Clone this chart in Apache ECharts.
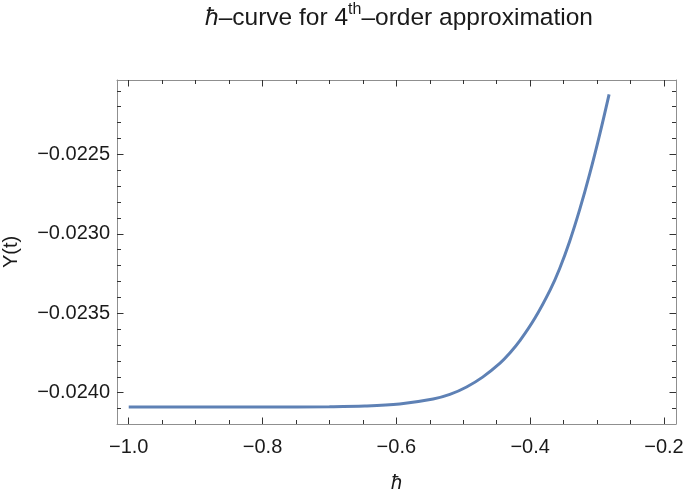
<!DOCTYPE html>
<html><head><meta charset="utf-8">
<script src="https://cdn.jsdelivr.net/npm/echarts@6/dist/echarts.min.js"></script>
<style>html,body{margin:0;padding:0;background:#fff}#c{width:685px;height:493px}</style>
</head><body><div id="c"></div>
<script>
// data
const hbarValues = [-1.000, -0.894, -0.800, -0.700, -0.647, -0.595, -0.545, -0.520, -0.495, -0.471, -0.445, -0.430, -0.415, -0.393, -0.370, -0.356, -0.341, -0.326, -0.311, -0.296, -0.282];
const yValues = [-0.024090, -0.024090, -0.024090, -0.024088, -0.024084, -0.024071, -0.024040, -0.024011, -0.023964, -0.023902, -0.023814, -0.023749, -0.023671, -0.023532, -0.023353, -0.023220, -0.023048, -0.022848, -0.022623, -0.022374, -0.022122];
const xMajorTicks = [-1.0, -0.8, -0.6, -0.4, -0.2];
const xMinorTicks = [-0.95, -0.9, -0.85, -0.75, -0.7, -0.65, -0.55, -0.5, -0.45, -0.35, -0.3, -0.25];
const yMajorTicks = [-0.0240, -0.0235, -0.0230, -0.0225];
const yMinorTicks = [-0.0241, -0.0239, -0.0238, -0.0237, -0.0236, -0.0234, -0.0233, -0.0232, -0.0231, -0.0229, -0.0228, -0.0227, -0.0226, -0.0224, -0.0223, -0.0222, -0.0221];
const xRange = [-1.0175, -0.182];
const yRange = [-0.024197, -0.022032];

const FONT = 'Liberation Sans';
const FRAME = '#8f8f8f';
const TICK = '#333333';
const TEXT = '#1a1a1a';

function fmt(v, d) { return (v < 0 ? '\u2212' : '') + Math.abs(v).toFixed(d); }

function mkAxis(kind, position, ticks, len, showLine, labels) {
  const a = {
    type: 'value', position: position, gridIndex: 0,
    min: kind === 'x' ? xRange[0] : yRange[0],
    max: kind === 'x' ? xRange[1] : yRange[1],
    splitLine: { show: false },
    axisLine: { show: showLine, onZero: false, lineStyle: { color: FRAME, width: 1 } },
    axisTick: { show: true, inside: true, length: len, customValues: ticks, lineStyle: { color: TICK, width: 1 } },
    axisLabel: { show: false }
  };
  if (labels) {
    a.axisLabel = {
      show: true, customValues: ticks, color: TEXT, fontSize: 20, fontFamily: FONT,
      margin: kind === 'x' ? 13 : 7,
      formatter: v => fmt(v, kind === 'x' ? 1 : 4)
    };
  }
  return a;
}

const xAxes = [
  mkAxis('x', 'bottom', xMajorTicks, 6.5, true, true),
  mkAxis('x', 'bottom', xMinorTicks, 4, false, false),
  mkAxis('x', 'top', xMajorTicks, 6.5, true, false),
  mkAxis('x', 'top', xMinorTicks, 4, false, false)
];
Object.assign(xAxes[0], {
  name: '\u0127', nameLocation: 'middle', nameGap: 49,
  nameTextStyle: { fontSize: 20, fontStyle: 'italic', fontFamily: FONT, color: TEXT }
});
const yAxes = [
  mkAxis('y', 'left', yMajorTicks, 6.5, true, true),
  mkAxis('y', 'left', yMinorTicks, 4, false, false),
  mkAxis('y', 'right', yMajorTicks, 6.5, true, false),
  mkAxis('y', 'right', yMinorTicks, 4, false, false)
];
Object.assign(yAxes[0], {
  name: 'Y(t)', nameLocation: 'middle', nameGap: 96, nameRotate: 90,
  nameTextStyle: { fontSize: 20, fontFamily: FONT, color: TEXT }
});

const chart = echarts.init(document.getElementById('c'), null, { renderer: 'canvas' });
chart.setOption({
  animation: false,
  backgroundColor: '#ffffff',
  textStyle: { fontFamily: FONT },
  title: {
    text: '{it|\u0127}{n|\u2013curve for 4}{sup|th}{n|\u2013order approximation}',
    left: 399, top: 0, textAlign: 'center', padding: [2, 0],
    textStyle: {
      fontWeight: 'normal',
      rich: {
        it: { fontSize: 24.5, fontStyle: 'italic', fontWeight: 'normal', fontFamily: FONT, color: TEXT, lineHeight: 32 },
        n: { fontSize: 24.5, fontWeight: 'normal', fontFamily: FONT, color: TEXT, lineHeight: 32 },
        sup: { fontSize: 16, fontWeight: 'normal', fontFamily: FONT, color: TEXT, lineHeight: 16, verticalAlign: 'top' }
      }
    }
  },
  grid: { left: 117, right: 9, top: 80, bottom: 69, containLabel: false, outerBoundsMode: 'none' },
  xAxis: xAxes,
  yAxis: yAxes,
  series: [{
    type: 'line', xAxisIndex: 0, yAxisIndex: 0,
    data: hbarValues.map((x, i) => [x, yValues[i]]),
    smooth: 0.35, symbol: 'none',
    lineStyle: { color: '#5e81b5', width: 3 }
  }]
});
</script></body></html>
